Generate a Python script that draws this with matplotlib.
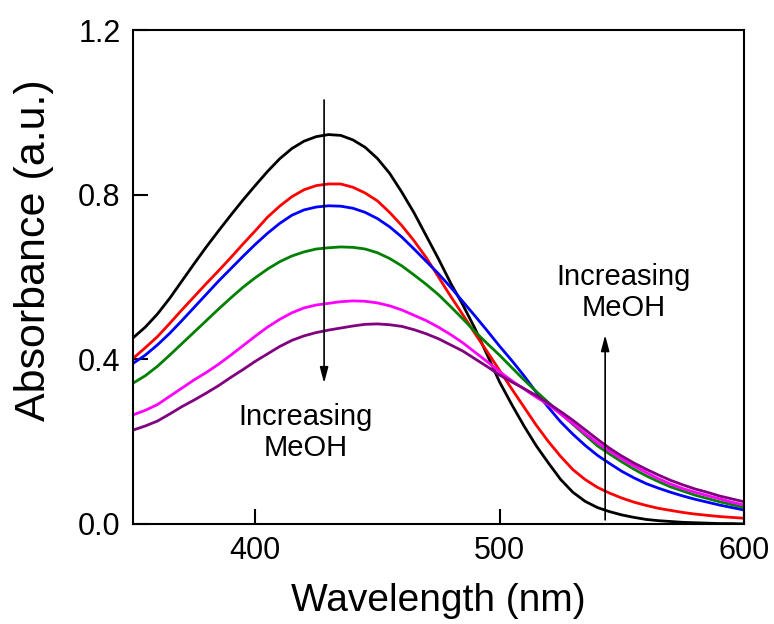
import numpy as np
import matplotlib
matplotlib.use("Agg")
from matplotlib import pyplot as plt

plt.rcParams['font.family'] = ['Liberation Sans', 'DejaVu Sans']

# wavelength grid (nm) and absorbance
wavelength = list(range(350, 601, 5))

abs_black = [0.452, 0.478, 0.51, 0.548, 0.59, 0.632, 0.673, 0.712, 0.75, 0.787,
             0.822, 0.856, 0.887, 0.912, 0.93, 0.941, 0.946, 0.944, 0.933, 0.915,
             0.888, 0.852, 0.806, 0.756, 0.70, 0.644, 0.585, 0.532, 0.474, 0.41,
             0.345, 0.29, 0.238, 0.19, 0.148, 0.108, 0.077, 0.055, 0.04, 0.03,
             0.022, 0.016, 0.011, 0.008, 0.006, 0.004, 0.003, 0.002, 0.001, 0.001, 0.0]
abs_red = [0.402, 0.428, 0.455, 0.487, 0.52, 0.552, 0.584, 0.615, 0.647, 0.68,
           0.712, 0.745, 0.772, 0.795, 0.812, 0.822, 0.826, 0.826, 0.818, 0.804,
           0.785, 0.757, 0.725, 0.688, 0.647, 0.6, 0.553, 0.508, 0.462, 0.418,
           0.373, 0.328, 0.284, 0.24, 0.2, 0.164, 0.132, 0.108, 0.089, 0.075,
           0.063, 0.053, 0.045, 0.038, 0.033, 0.028, 0.024, 0.021, 0.018, 0.016, 0.014]
abs_blue = [0.39, 0.41, 0.435, 0.463, 0.494, 0.526, 0.558, 0.59, 0.62, 0.65,
            0.679, 0.706, 0.73, 0.75, 0.763, 0.77, 0.773, 0.772, 0.767, 0.757,
            0.742, 0.722, 0.697, 0.668, 0.638, 0.608, 0.575, 0.54, 0.505, 0.469,
            0.432, 0.397, 0.36, 0.32, 0.283, 0.248, 0.218, 0.191, 0.167, 0.147,
            0.128, 0.112, 0.098, 0.087, 0.077, 0.068, 0.06, 0.053, 0.046, 0.04, 0.034]
abs_green = [0.342, 0.36, 0.383, 0.41, 0.438, 0.466, 0.494, 0.522, 0.549, 0.575,
             0.598, 0.619, 0.637, 0.651, 0.661, 0.668, 0.671, 0.673, 0.672, 0.668,
             0.659, 0.645, 0.627, 0.605, 0.582, 0.557, 0.528, 0.498, 0.467, 0.438,
             0.41, 0.38, 0.35, 0.322, 0.295, 0.268, 0.242, 0.216, 0.19, 0.17,
             0.151, 0.133, 0.117, 0.103, 0.09, 0.08, 0.07, 0.062, 0.054, 0.047, 0.04]
abs_magenta = [0.265, 0.276, 0.29, 0.31, 0.33, 0.35, 0.368, 0.388, 0.41, 0.433,
               0.456, 0.478, 0.497, 0.513, 0.525, 0.532, 0.536, 0.54, 0.542, 0.541,
               0.537, 0.53, 0.52, 0.507, 0.494, 0.478, 0.46, 0.44, 0.417, 0.394,
               0.37, 0.348, 0.328, 0.308, 0.29, 0.267, 0.244, 0.22, 0.197, 0.177,
               0.158, 0.141, 0.125, 0.11, 0.097, 0.086, 0.077, 0.069, 0.061, 0.053, 0.046]
abs_purple = [0.228, 0.238, 0.25, 0.267, 0.285, 0.301, 0.318, 0.336, 0.356, 0.375,
              0.395, 0.413, 0.431, 0.446, 0.457, 0.465, 0.471, 0.476, 0.481, 0.485,
              0.486, 0.484, 0.48, 0.472, 0.462, 0.45, 0.435, 0.42, 0.401, 0.382,
              0.362, 0.345, 0.329, 0.312, 0.293, 0.273, 0.252, 0.229, 0.206, 0.184,
              0.165, 0.148, 0.133, 0.119, 0.106, 0.095, 0.085, 0.077, 0.068, 0.061, 0.054]

series = [abs_black, abs_red, abs_blue, abs_green, abs_magenta, abs_purple]
colors = ["black", "red", "blue", "green", "magenta", "purple"]

fig = plt.figure(figsize=(7.74, 6.24), dpi=100)
ax = fig.add_axes([0.1718, 0.1603, 0.7894, 0.7916])

for values, c in zip(series, colors):
    ax.plot(wavelength, values, color=c, lw=2)

ax.set_xlim(350, 600)
ax.set_ylim(0, 1.2)
ax.set_xticks([400, 500, 600])
ax.set_yticks([0.0, 0.4, 0.8, 1.2])
ax.tick_params(direction="in", length=11, width=1.5, labelsize=22, top=False, right=False)
ax.tick_params(axis="x", pad=9)
ax.tick_params(axis="y", pad=9)
for sp in ax.spines.values():
    sp.set_linewidth(1.5)

ax.set_xlabel("Wavelength (nm)", fontsize=28, labelpad=12)
ax.set_ylabel("Absorbance (a.u.)", fontsize=31)
ax.yaxis.set_label_coords(-0.13, 0.555)

arrow = dict(arrowstyle="-|>,head_length=0.95,head_width=0.25", lw=1.2, color="black",
             mutation_scale=10, shrinkA=0, shrinkB=0)
ax.annotate("", xy=(428.2, 0.342), xytext=(428.2, 1.03), arrowprops=arrow)
ax.annotate("", xy=(543.2, 0.459), xytext=(543.2, 0.01), arrowprops=arrow)
ax.text(420.8, 0.223, "Increasing\nMeOH", ha="center", va="center", fontsize=21, linespacing=1.15)
ax.text(550.6, 0.563, "Increasing\nMeOH", ha="center", va="center", fontsize=21, linespacing=1.15)

fig.savefig("out.png", dpi=100)
